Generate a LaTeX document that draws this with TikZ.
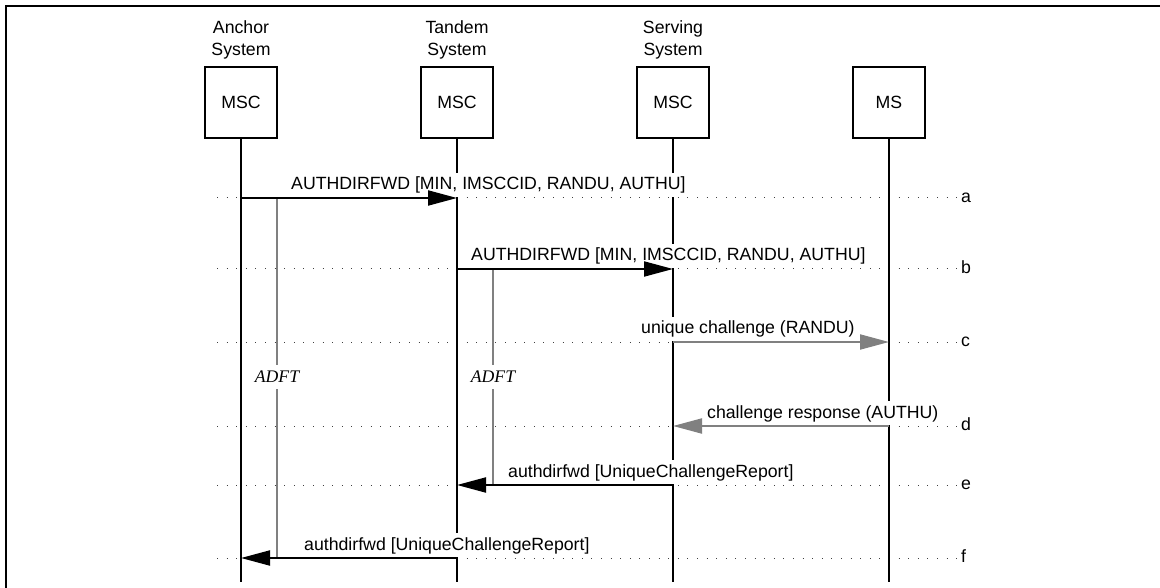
\documentclass[tikz,border=0pt]{standalone}
\usepackage{fontspec}
\setmainfont{Liberation Sans}
\newfontfamily\adftfont{Liberation Serif}
\usetikzlibrary{arrows.meta,calc}
\definecolor{tgray}{HTML}{808080}
\begin{document}
\begin{tikzpicture}[x=1pt,y=-1pt,
  font=\fontsize{17.7}{22}\selectfont,
  box/.style={draw, line width=1.5pt, minimum width=72pt, minimum height=71pt, inner sep=0pt},
  head/.style={align=center, anchor=base, inner sep=0pt},
  life/.style={line width=2pt},
  timer/.style={line width=2pt, draw=tgray},
  rowline/.style={line width=1pt, dash pattern=on 1pt off 8.6pt, draw=black!75},
  msg/.style={line width=2pt, -{Triangle[length=29pt,width=15pt]}},
  gmsg/.style={msg, draw=tgray, fill=tgray},
  lbl/.style={fill=white, inner xsep=1pt, inner ysep=0pt, text height=17pt, text depth=7pt, anchor=base west},
  tlbl/.style={fill=white, inner xsep=1pt, inner ysep=6pt, text height=11.7pt, text depth=0pt, font=\fontsize{17.7}{22}\adftfont\itshape},
  rowlbl/.style={anchor=base west, inner sep=0pt}]
\useasboundingbox (0,0) rectangle (1160,588);
% frame
\draw[line width=2pt] (6,590) -- (6,6) -- (1162,6);
% headers and boxes
\node[head] (hA) at (241,56) {Anchor\\System};
\node[head] (hT) at (457,56) {Tandem\\System};
\node[head] (hS) at (673,56) {Serving\\System};
\node[box] (A) at (241,102.5) {MSC};
\node[box] (T) at (457,102.5) {MSC};
\node[box] (S) at (673,102.5) {MSC};
\node[box] (M) at (889,102.5) {MS};
\coordinate (bot) at (0,582);
% rows
\coordinate (ra) at (217,198);
\coordinate (rb) at (217,269);
\coordinate (rc) at (217,342);
\coordinate (rd) at (217,426);
\coordinate (re) at (217,485);
\coordinate (rf) at (217,558);
\foreach \r/\l in {ra/a,rb/b,rc/c,rd/d,re/e,rf/f}{
  \draw[rowline] (\r) -- ++(740,0);
  \node[rowlbl] (lbl-\l) at ($(\r)+(744,4.5)$) {\l};
}
% lifelines
\draw[life] (A.south) -- (A |- bot);
\draw[life] (T.south) -- (T |- bot);
\draw[life] (S.south) -- (S |- bot);
\draw[life] (M.south) -- (M |- bot);
% timers
\coordinate (tA1) at (277,198);
\coordinate (tA2) at (277,558);
\coordinate (tT1) at (493,269);
\coordinate (tT2) at (493,485);
\draw[timer] (tA1) -- (tA2);
\draw[timer] (tT1) -- (tT2);
\node[tlbl] (adA) at (277,377) {ADFT};
\node[tlbl] (adT) at (493,377) {ADFT};
% labels
\node[lbl] (la) at (290,190) {AUTHDIRFWD [MIN, IMSCCID, RANDU, AUTHU]};
\node[lbl] (lb) at (470,261) {AUTHDIRFWD [MIN, IMSCCID, RANDU, AUTHU]};
\node[lbl] (lc) at (640,334) {unique challenge (RANDU)};
\node[lbl] (ld) at (706,418) {challenge response (AUTHU)};
\node[lbl] (le) at (507,477) {authdirfwd [UniqueChallengeReport]};
\node[lbl] (lf) at (303,550) {authdirfwd [UniqueChallengeReport]};
% messages
\draw[msg] (A |- ra) -- (T |- ra);
\draw[msg] (T |- rb) -- (S |- rb);
\draw[gmsg] (S |- rc) -- (M |- rc);
\draw[gmsg] (M |- rd) -- (S |- rd);
\draw[msg] (S |- re) -- (T |- re);
\draw[msg] (T |- rf) -- (A |- rf);
\end{tikzpicture}
\end{document}
